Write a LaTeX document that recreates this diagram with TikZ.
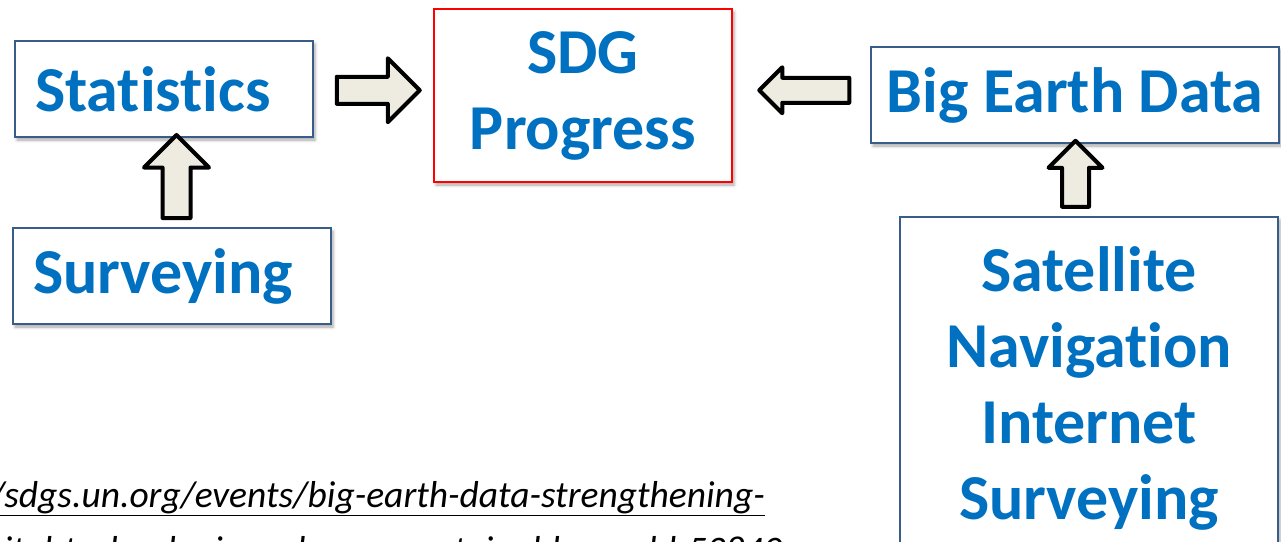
\documentclass[tikz,border=0pt]{standalone}
\usepackage{fontspec}
\setmainfont{Carlito}[Ligatures={NoCommon,NoRare,NoContextual}]
\usepackage{tikz}
\usetikzlibrary{calc}
\usetikzlibrary{shapes.arrows}
\usetikzlibrary{shadows.blur}
\definecolor{sdgblue}{HTML}{0070C0}
\definecolor{boxline}{HTML}{385D8A}
\definecolor{arrowfill}{HTML}{EEECE1}
\tikzstyle{topic}=[rectangle, draw=boxline, line width=2pt, fill=white, inner sep=0pt, text=sdgblue, font=\bfseries\fontsize{64}{76}\selectfont, blur shadow={shadow xshift=2pt, shadow yshift=-3pt, shadow blur radius=3pt, shadow opacity=35}]
\tikzstyle{ltopic}=[topic, anchor=north west, align=left, inner xsep=20pt, minimum height=96pt]
\tikzstyle{ctopic}=[topic, align=center]
\tikzstyle{goal}=[ctopic, draw=red]
\tikzstyle{blk}=[single arrow, draw=black, line width=4pt, line join=round, fill=arrowfill]
\tikzstyle{url}=[anchor=base east, inner sep=0pt, font=\itshape\fontsize{37.5}{45}\selectfont]

\begin{document}
\begin{tikzpicture}[x=1pt, y=-1pt]
	\useasboundingbox (0,0) rectangle (1281,541);
	\clip (0,0) rectangle (1281,541);
	% boxes
	\node[ltopic, text width=258pt] (stat) at (14,40) {Statistics};
	\node[ltopic, text width=278pt] (surv) at (12,227) {Surveying};
	\node[goal, minimum width=298pt, minimum height=173pt] (sdg) at (583,95.5) {SDG\\Progress};
	\node[ctopic, anchor=north west, minimum width=408pt, minimum height=96pt] (bed) at (870,46) {Big Earth Data};
	\node[ctopic, minimum width=378pt, minimum height=342pt] (sat) at (1089,388) {Satellite\\Navigation\\Internet\\Surveying};
	% block arrows
	\node[blk, inner sep=11.5pt, minimum height=83pt, minimum width=60pt, single arrow head extend=18.5pt] (toSDG) at ($(stat.east)!0.5!(sdg.west)+(-2,-2)$) {};
	\node[blk, shape border rotate=180, inner sep=10.5pt, minimum height=90pt, minimum width=42pt, single arrow head extend=10.5pt] (fromBED) at ($(sdg.east)!0.5!(bed.west)+(9,-5)$) {};
	\node[blk, shape border rotate=90, inner sep=12pt, minimum height=83pt, minimum width=61pt, single arrow head extend=18.5pt] (toStat) at ($(stat.south)!0.5!(surv.north)+(8.5,1)$) {};
	\node[blk, shape border rotate=90, inner sep=11.5pt, minimum height=66pt, minimum width=50pt, single arrow head extend=13.5pt] (toBED) at ($(bed.south)!0.5!(sat.north)+(-6.5,0.5)$) {};
	% source
	\node[url] (link1) at (765,507) {\underline{https://sdgs.un.org/events/big-earth-data-strengthening-}};
	\node[url] (link2) at (783,562) {\underline{science-and-digital-technologies-advance-sustainable-world-53840}};
\end{tikzpicture}
\end{document}
